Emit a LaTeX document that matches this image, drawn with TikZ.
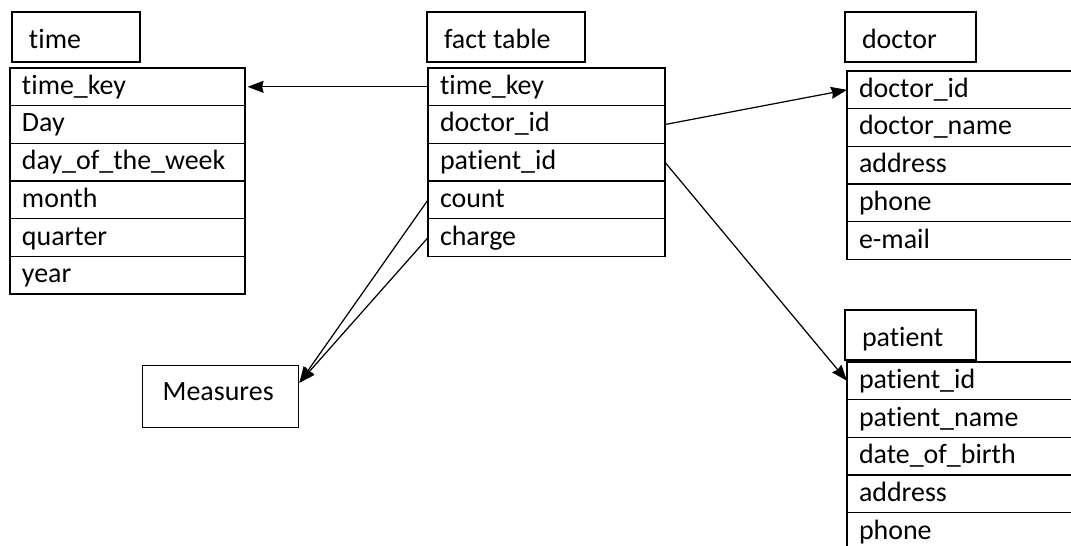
\documentclass[tikz,border=0pt]{standalone}
\usepackage{fontspec}
\setmainfont{Carlito}[Ligatures=NoCommon]
\usetikzlibrary{positioning,arrows.meta}

\tikzset{
  field/.style={draw, line width=0.8pt, outer sep=0pt, inner xsep=0.24cm, inner ysep=0pt,
    minimum height=0.754cm, text width=#1, align=left, text height=12pt, text depth=3.5pt,
    anchor=north west, font=\fontsize{15.9pt}{19pt}\selectfont},
  head/.style={draw, line width=0.8pt, outer sep=0pt, inner xsep=0.34cm, inner ysep=0pt,
    minimum height=1cm, text width=#1, align=left, text height=15pt, text depth=2pt,
    anchor=north west, font=\fontsize{15.9pt}{19pt}\selectfont},
  link/.style={-{Stealth[length=0.32cm,width=0.24cm,inset=0.03cm]}, line width=0.7pt},
}

\begin{document}
\begin{tikzpicture}[x=0.02cm, y=-0.02cm]
  \useasboundingbox (0,0) rectangle (1071,546);
  \clip (0,0) rectangle (1071,546);

  % time dimension
  \node[head=1.88cm] (time) at (12,12) {time};
  \node[field=4.22cm] (t1) at (10,68) {time\_key};
  \node[field=4.22cm, below=0pt of t1] (t2) {Day};
  \node[field=4.22cm, below=0pt of t2] (t3) {day\_of\_the\_week};
  \node[field=4.22cm, below=0pt of t3] (t4) {month};
  \node[field=4.22cm, below=0pt of t4] (t5) {quarter};
  \node[field=4.22cm, below=0pt of t5] (t6) {year};

  % fact table
  \node[head=2.48cm] (fact) at (427,12) {fact\hspace{-1.5pt} table};
  \node[field=4.26cm] (f1) at (428,68) {time\_key};
  \node[field=4.26cm, below=0pt of f1] (f2) {doctor\_id};
  \node[field=4.26cm, below=0pt of f2] (f3) {patient\_id};
  \node[field=4.26cm, below=0pt of f3] (f4) {count};
  \node[field=4.26cm, below=0pt of f4] (f5) {charge};

  % doctor dimension
  \node[head=1.94cm] (doctor) at (845,12) {doctor};
  \node[field=4.12cm] (d1) at (847,71) {doctor\_id};
  \node[field=4.12cm, below=0pt of d1] (d2) {doctor\_name};
  \node[field=4.12cm, below=0pt of d2] (d3) {address};
  \node[field=4.12cm, below=0pt of d3] (d4) {phone};
  \node[field=4.12cm, below=0pt of d4] (d5) {e-mail};

  % patient dimension
  \node[head=1.94cm] (patient) at (845,310) {patient};
  \node[field=4.12cm] (p1) at (847,362) {patient\_id};
  \node[field=4.12cm, below=0pt of p1] (p2) {patient\_name};
  \node[field=4.12cm, below=0pt of p2] (p3) {date\_of\_birth};
  \node[field=4.12cm, below=0pt of p3] (p4) {address};
  \node[field=4.12cm, below=0pt of p4] (p5) {phone};

  % measures
  \node[draw, line width=0.8pt, anchor=north west, inner xsep=0.4cm, minimum height=1.24cm,
    text width=2.32cm, align=left, text height=8pt, text depth=3.4pt,
    font=\fontsize{15.9pt}{19pt}\selectfont] (measures) at (142,365) {Measures};

  \draw[link, shorten >=1.5pt] (f1.west) -- (t1.east);
  \draw[link] (f2.east) -- (d1.west);
  \draw[link] (f3.east) -- (p1.west);
  \draw[link] (f4.west) -- (measures.10);
  \draw[link] (f5.west) -- (measures.10);
\end{tikzpicture}
\end{document}
